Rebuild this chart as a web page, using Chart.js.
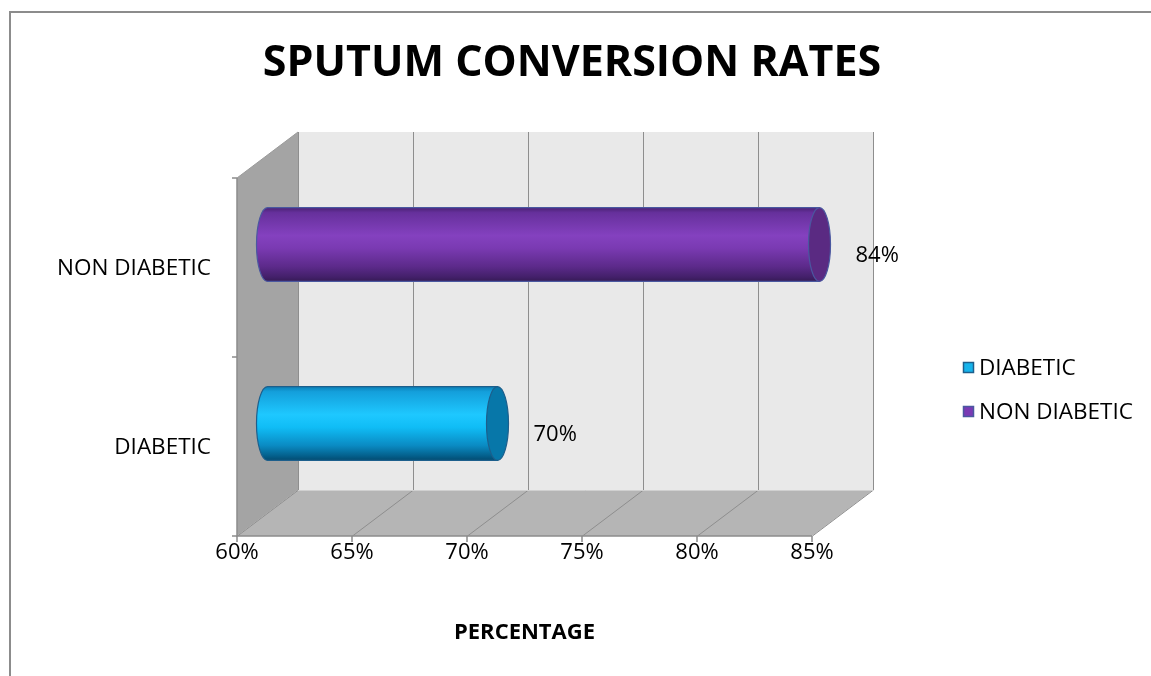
<!DOCTYPE html>
<html>
<head>
<meta charset="utf-8">
<title>Sputum Conversion Rates</title>
<script src="https://cdn.jsdelivr.net/npm/chart.js@4.4.1/dist/chart.umd.min.js"></script>
<style>
  html, body { margin: 0; padding: 0; background: #ffffff; }
  #wrap { width: 1151px; height: 676px; position: relative; }
  canvas { display: block; }
</style>
</head>
<body>
<div id="wrap"><canvas id="chart" width="1151" height="676"></canvas></div>
<script>
// Chart data
const chartTitle = 'SPUTUM CONVERSION RATES';
const axisTitle = 'PERCENTAGE';
const categories = ['DIABETIC', 'NON DIABETIC'];
const seriesNames = ['DIABETIC', 'NON DIABETIC'];
const diabeticValues = [70, null];
const nonDiabeticValues = [null, 84];
const tickValues = [60, 65, 70, 75, 80, 85];
const tickLabels = ['60%', '65%', '70%', '75%', '80%', '85%'];

// Look of each cylinder series
const seriesStyles = [
  {
    stops: [[0, '#0a7fb5'], [0.07, '#149fdb'], [0.38, '#1ec8ff'], [0.55, '#10bdf6'],
            [0.8, '#0a8ac2'], [0.94, '#045f8b'], [1, '#024a70']],
    cap: '#0777a9', edge: '#1d5f8c', swatch: '#16b4ec'
  },
  {
    stops: [[0, '#4a2274'], [0.07, '#66309c'], [0.38, '#8441bf'], [0.55, '#7a3ab2'],
            [0.8, '#5c2a8a'], [0.94, '#43206a'], [1, '#361a55']],
    cap: '#5a2a82', edge: '#4a58a0', swatch: '#7a3ab4'
  }
];

const FONT = '"Open Sans", "Liberation Sans", sans-serif';
const DEPTH = { dx: 61, dy: -46 };   // offset of the back wall relative to the front plane
const BAR_FRACTION = 0.413;          // cylinder diameter as a share of the category band
const CAP_RX = 11;                    // horizontal radius of the cylinder end ellipses

const frame3d = {
  id: 'frame3d',
  beforeDatasetsDraw(chart) {
    const ctx = chart.ctx;
    const xs = chart.scales.x, ys = chart.scales.y;
    const { top, bottom } = chart.chartArea;
    const xL = xs.getPixelForValue(tickValues[0]);
    const xR = xs.getPixelForValue(tickValues[tickValues.length - 1]);
    const { dx, dy } = DEPTH;
    ctx.save();

    // outer border
    ctx.strokeStyle = '#8c8c8c';
    ctx.lineWidth = 2;
    ctx.beginPath();
    ctx.moveTo(10, 676);
    ctx.lineTo(10, 12);
    ctx.lineTo(1151, 12);
    ctx.stroke();

    // back wall
    ctx.fillStyle = '#e9e9e9';
    ctx.fillRect(xL + dx, top + dy, xR - xL, bottom - top);
    // left side wall
    ctx.fillStyle = '#a4a4a4';
    ctx.beginPath();
    ctx.moveTo(xL, top);
    ctx.lineTo(xL + dx, top + dy);
    ctx.lineTo(xL + dx, bottom + dy);
    ctx.lineTo(xL, bottom);
    ctx.closePath();
    ctx.fill();
    // floor
    ctx.fillStyle = '#b5b5b5';
    ctx.beginPath();
    ctx.moveTo(xL, bottom);
    ctx.lineTo(xR, bottom);
    ctx.lineTo(xR + dx, bottom + dy);
    ctx.lineTo(xL + dx, bottom + dy);
    ctx.closePath();
    ctx.fill();

    // gridlines on back wall and floor
    ctx.strokeStyle = '#8e8e8e';
    ctx.lineWidth = 1;
    tickValues.forEach((v) => {
      const x = Math.round(xs.getPixelForValue(v)) + 0.5;
      ctx.beginPath();
      ctx.moveTo(x + dx, top + dy);
      ctx.lineTo(x + dx, bottom + dy);
      ctx.lineTo(x, bottom);
      ctx.stroke();
    });
    // wall edges
    ctx.strokeStyle = '#9a9a9a';
    ctx.beginPath();
    ctx.moveTo(xL, top);
    ctx.lineTo(xL + dx, top + dy);
    ctx.stroke();
    ctx.strokeStyle = '#d0d0d0';
    ctx.beginPath();
    ctx.moveTo(xL + dx, bottom + dy + 0.5);
    ctx.lineTo(xR + dx, bottom + dy + 0.5);
    ctx.stroke();

    // front axes with tick marks
    ctx.strokeStyle = '#8c8c8c';
    ctx.lineWidth = 1.5;
    ctx.beginPath();
    ctx.moveTo(xL, top);
    ctx.lineTo(xL, bottom);
    ctx.lineTo(xR, bottom);
    ctx.stroke();
    ctx.beginPath();
    tickValues.forEach((v) => {
      const x = xs.getPixelForValue(v);
      ctx.moveTo(x, bottom);
      ctx.lineTo(x, bottom + 6);
    });
    for (let i = 0; i <= categories.length; i++) {
      const y = ys.getPixelForValue(i - 0.5);
      ctx.moveTo(xL, y);
      ctx.lineTo(xL - 5, y);
    }
    ctx.stroke();

    // tick labels
    ctx.fillStyle = '#000000';
    ctx.font = '22px ' + FONT;
    ctx.textAlign = 'center';
    ctx.textBaseline = 'middle';
    tickValues.forEach((v, i) => {
      ctx.fillText(tickLabels[i], xs.getPixelForValue(v), bottom + 17);
    });
    ctx.textAlign = 'right';
    ctx.font = '22.5px ' + FONT;
    categories.forEach((c, i) => {
      ctx.fillText(c, xL - 26, ys.getPixelForValue(i) + 1);
    });

    // titles
    ctx.textAlign = 'center';
    ctx.font = 'bold 43px ' + FONT;
    ctx.fillText(chartTitle, 572, 64);
    ctx.font = 'bold 22px ' + FONT;
    ctx.fillText(axisTitle, (xL + xR) / 2, 633);

    // legend
    ctx.font = '22.5px ' + FONT;
    ctx.textAlign = 'left';
    chart.data.datasets.forEach((ds, i) => {
      const y = 368 + i * 44;
      const st = seriesStyles[i];
      ctx.fillStyle = st.swatch;
      ctx.fillRect(963.5, y - 5.5, 10, 10);
      ctx.strokeStyle = st.edge;
      ctx.lineWidth = 1.5;
      ctx.strokeRect(963.5, y - 5.5, 10, 10);
      ctx.fillStyle = '#000000';
      ctx.fillText(ds.label, 979, y + 1);
    });
    ctx.restore();
  },

  afterDatasetsDraw(chart) {
    const ctx = chart.ctx;
    const xs = chart.scales.x, ys = chart.scales.y;
    const { dx, dy } = DEPTH;
    const band = Math.abs(ys.getPixelForValue(1) - ys.getPixelForValue(0));
    const ry = band * BAR_FRACTION / 2;
    const rx = CAP_RX;
    ctx.save();
    chart.data.datasets.forEach((ds, di) => {
      const st = seriesStyles[di];
      ds.data.forEach((v, ci) => {
        if (v === null || v === undefined) return;
        const x0 = xs.getPixelForValue(xs.min) + dx / 2;
        const x1 = xs.getPixelForValue(v) + dx / 2;
        const cy = ys.getPixelForValue(ci) + dy / 2;
        const grad = ctx.createLinearGradient(0, cy - ry, 0, cy + ry);
        st.stops.forEach(([o, c]) => grad.addColorStop(o, c));

        // body with rounded left end
        ctx.beginPath();
        ctx.moveTo(x1, cy - ry);
        ctx.lineTo(x0, cy - ry);
        ctx.ellipse(x0, cy, rx, ry, 0, -Math.PI / 2, Math.PI / 2, true);
        ctx.lineTo(x1, cy + ry);
        ctx.closePath();
        ctx.fillStyle = grad;
        ctx.fill();
        ctx.strokeStyle = st.edge;
        ctx.lineWidth = 1.2;
        ctx.stroke();

        // right end cap
        ctx.beginPath();
        ctx.ellipse(x1, cy, rx, ry, 0, 0, Math.PI * 2);
        ctx.fillStyle = st.cap;
        ctx.fill();
        ctx.strokeStyle = st.edge;
        ctx.stroke();

        // value label
        ctx.fillStyle = '#000000';
        ctx.font = '22px ' + FONT;
        ctx.textAlign = 'left';
        ctx.textBaseline = 'middle';
        ctx.fillText(v + '%', x1 + rx + 25, cy + 11);
      });
    });
    ctx.restore();
  }
};

new Chart(document.getElementById('chart'), {
  type: 'bar',
  data: {
    labels: categories,
    datasets: [
      { label: seriesNames[0], data: diabeticValues, backgroundColor: 'rgba(0,0,0,0)', borderWidth: 0 },
      { label: seriesNames[1], data: nonDiabeticValues, backgroundColor: 'rgba(0,0,0,0)', borderWidth: 0 }
    ]
  },
  options: {
    indexAxis: 'y',
    responsive: false,
    animation: false,
    events: [],
    layout: { padding: { left: 237, right: 339, top: 178, bottom: 140 } },
    datasets: { bar: { grouped: false, skipNull: true } },
    scales: {
      x: { display: false, min: 60, max: 85, ticks: { stepSize: 5 } },
      y: { display: false, reverse: true, offset: true }
    },
    plugins: { legend: { display: false }, title: { display: false }, tooltip: { enabled: false } }
  },
  plugins: [frame3d]
});
</script>
</body>
</html>
